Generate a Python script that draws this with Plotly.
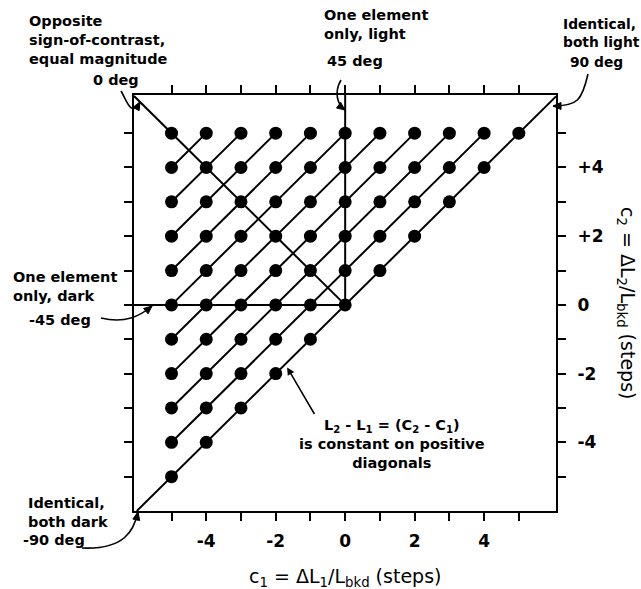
import math
import plotly.graph_objects as go

# Contrast steps along each axis
steps = list(range(-5, 6))

# Axis extents (steps) for c1 (horizontal) and c2 (vertical)
c1_range = [-6.08, 6.07]
c2_range = [-6.0, 6.11]

# Stimulus pairs: every (c1, c2) with c2 >= c1
pair_c1 = [a for a in steps for b in steps if b >= a]
pair_c2 = [b for a in steps for b in steps if b >= a]

# Offsets (c2 - c1) of the positive diagonals that join stimulus pairs
diag_offsets = list(range(1, 10))

# Tick labels
x_tick_text = ["", "-4", "", "-2", "", "0", "", "2", "", "4", ""]
y_tick_text = ["", "-4", "", "-2", "", "0", "", "+2", "", "+4", ""]

# Reference lines through the origin (angle in c1/c2 plane)
line_0deg_c1 = [c1_range[0], 0]          # c2 = -c1
line_0deg_c2 = [-c1_range[0], 0]
line_45deg_c1 = [0, 0]                   # c1 = 0, c2 >= 0
line_45deg_c2 = [0, c2_range[1]]
line_m45deg_c1 = [c1_range[0], 0]        # c2 = 0, c1 <= 0
line_m45deg_c2 = [0, 0]
line_90deg_c1 = [c2_range[0], c1_range[1]]   # c2 = c1 (identical pairs)
line_90deg_c2 = [c2_range[0], c1_range[1]]

BLACK = "black"
FONT = "DejaVu Sans"

fig = go.Figure()

line_style = dict(color=BLACK, width=2)

for d in diag_offsets:
    xs = [a for a in steps if a + d <= 5]
    ys = [a + d for a in xs]
    fig.add_trace(go.Scatter(x=xs, y=ys, mode="lines", line=line_style,
                             hoverinfo="skip", showlegend=False))

for xs, ys in [(line_0deg_c1, line_0deg_c2), (line_45deg_c1, line_45deg_c2),
               (line_m45deg_c1, line_m45deg_c2), (line_90deg_c1, line_90deg_c2)]:
    fig.add_trace(go.Scatter(x=xs, y=ys, mode="lines", line=line_style,
                             hoverinfo="skip", showlegend=False, cliponaxis=True))

fig.add_trace(go.Scatter(x=pair_c1, y=pair_c2, mode="markers",
                         marker=dict(color=BLACK, size=13, line=dict(width=0)),
                         showlegend=False))

# Plot-area geometry in pixels (used for callout curves)
W, H = 641, 589
ML, MR, MT, MB = 134, 85, 95, 78
PW, PH = W - ML - MR, H - MT - MB


def px(x):
    return (x - ML) / PW


def py(y):
    return (MT + PH - y) / PH


def bezier_path(p0, p1, p2, p3):
    return "M {},{} C {},{} {},{} {},{}".format(
        px(p0[0]), py(p0[1]), px(p1[0]), py(p1[1]),
        px(p2[0]), py(p2[1]), px(p3[0]), py(p3[1]))


def head_path(tip, frm, length=8, half=3.5):
    dx, dy = tip[0] - frm[0], tip[1] - frm[1]
    n = math.hypot(dx, dy)
    ux, uy = dx / n, dy / n
    bx, by = tip[0] - ux * length, tip[1] - uy * length
    qx, qy = -uy * half, ux * half
    pts = [tip, (bx + qx, by + qy), (bx - qx, by - qy)]
    return "M {},{} L {},{} L {},{} Z".format(
        px(pts[0][0]), py(pts[0][1]), px(pts[1][0]), py(pts[1][1]),
        px(pts[2][0]), py(pts[2][1]))


callouts = [
    ((121, 91), (127, 101), (131, 118), (140, 102)),   # 0 deg
    ((341, 80), (334, 92), (337, 104), (345, 110)),    # 45 deg
    ((588, 74), (582, 100), (578, 106), (553, 106)),   # 90 deg
    ((101, 318), (125, 324), (140, 316), (152, 306)),  # -45 deg
    ((82, 548), (125, 550), (134, 530), (138, 512)),   # -90 deg
]

shapes = []
for p0, p1, p2, p3 in callouts:
    shapes.append(dict(type="path", xref="paper", yref="paper",
                       path=bezier_path(p0, p1, p2, p3),
                       line=dict(color=BLACK, width=1.6)))
    shapes.append(dict(type="path", xref="paper", yref="paper",
                       path=head_path(p3, p2), fillcolor=BLACK,
                       line=dict(color=BLACK, width=1)))

bold = dict(family=FONT, size=14.5, color=BLACK, weight="bold")
bold_small = dict(family=FONT, size=13.8, color=BLACK, weight="bold")


def label(text, x, y, xanchor="left", align="left", font=bold):
    return dict(text=text, x=px(x), y=py(y), xref="paper", yref="paper",
                xanchor=xanchor, yanchor="middle", align=align,
                showarrow=False, font=font)


annotations = [
    label("Opposite<br>sign-of-contrast,<br>equal magnitude", 27, 40),
    label("0 deg", 116, 80, xanchor="center"),
    label("One element<br>only, light", 322, 25),
    label("45 deg", 355, 61, xanchor="center"),
    label("Identical,<br>both light", 561, 33, font=bold_small),
    label("90 deg", 568, 62, font=bold_small),
    label("One element<br>only, dark", 11, 286),
    label("-45 deg", 27, 320),
    label("Identical,<br>both dark", 26, 512),
    label("-90 deg", 21, 540),
    label("L<sub>2</sub> - L<sub>1</sub> = (C<sub>2</sub> - C<sub>1</sub>)<br>"
          "is constant on positive<br>diagonals", 392, 444,
          xanchor="center", align="center"),
    # axis titles
    dict(text="c<sub>1</sub> = ΔL<sub>1</sub>/L<sub>bkd</sub> (steps)",
         x=px(345), y=py(577), xref="paper", yref="paper",
         xanchor="center", yanchor="middle", showarrow=False,
         font=dict(family=FONT, size=19, color=BLACK)),
    dict(text="c<sub>2</sub> = ΔL<sub>2</sub>/L<sub>bkd</sub> (steps)",
         x=px(627), y=py(303), xref="paper", yref="paper",
         xanchor="center", yanchor="middle", showarrow=False, textangle=90,
         font=dict(family=FONT, size=19, color=BLACK)),
    # pointer to a positive diagonal
    dict(text="", x=-1.67, y=-1.82, ax=-0.86, ay=-3.22, xref="x", yref="y",
         axref="x", ayref="y", showarrow=True, arrowhead=2, arrowsize=1,
         arrowwidth=1.5, arrowcolor=BLACK),
]

tick_font = dict(family=FONT, size=17, color=BLACK, weight="bold")

fig.update_layout(
    width=W, height=H,
    margin=dict(l=ML, r=MR, t=MT, b=MB, pad=0),
    paper_bgcolor="white", plot_bgcolor="white",
    shapes=shapes, annotations=annotations,
    xaxis=dict(range=c1_range, tickvals=steps, ticktext=x_tick_text,
               ticks="outside", ticklen=8, tickwidth=1.5, tickcolor=BLACK,
               showline=True, linewidth=2, linecolor=BLACK, mirror="allticks",
               showgrid=False, zeroline=False, tickfont=tick_font,
               ticklabelstandoff=6, fixedrange=True),
    yaxis=dict(range=c2_range, tickvals=steps, ticktext=y_tick_text,
               side="right",
               ticks="outside", ticklen=8, tickwidth=1.5, tickcolor=BLACK,
               showline=True, linewidth=2, linecolor=BLACK, mirror="allticks",
               showgrid=False, zeroline=False, tickfont=tick_font,
               ticklabelstandoff=8, fixedrange=True),
)

fig.write_html("out.html")
